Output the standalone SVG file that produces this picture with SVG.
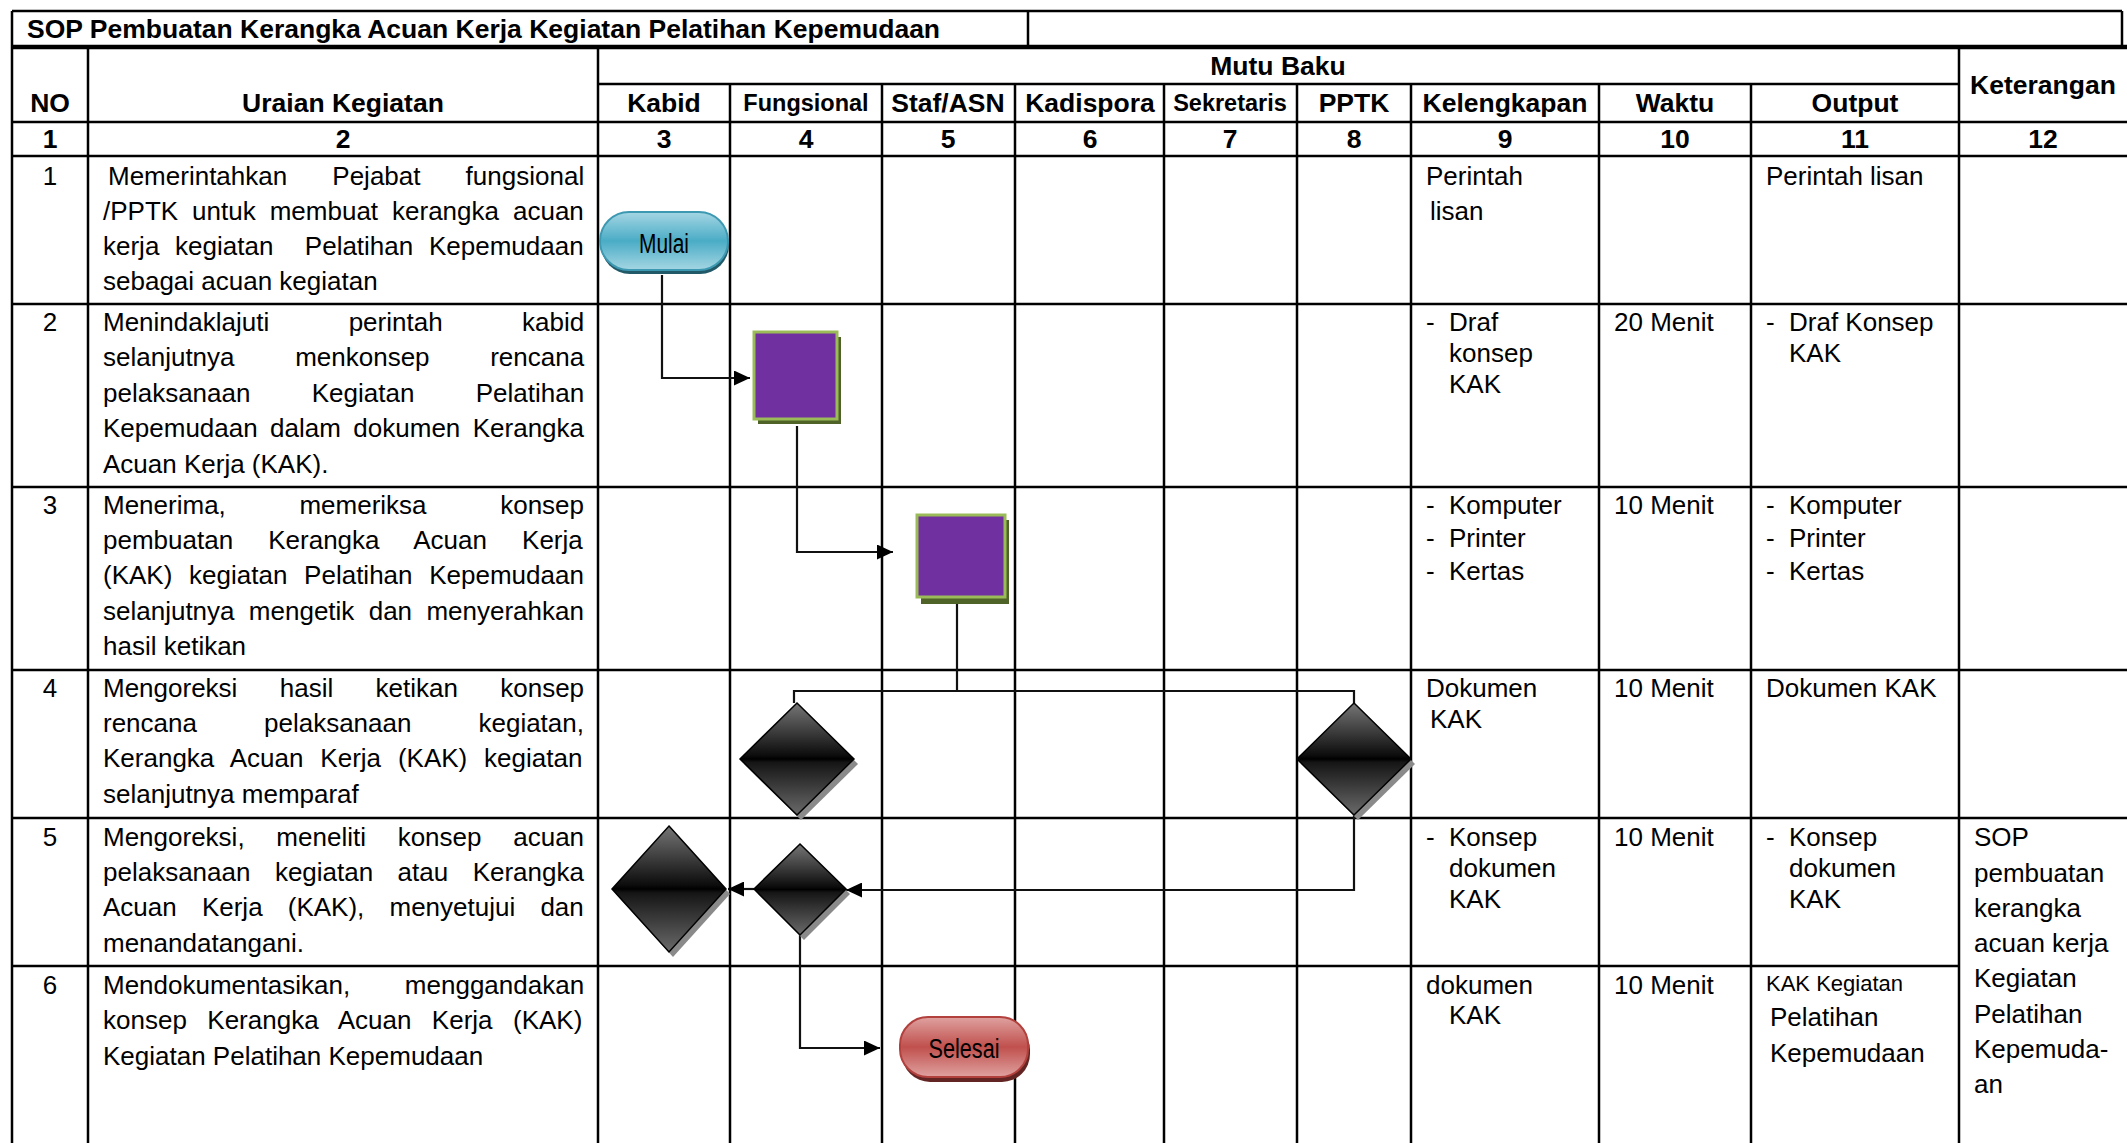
<svg xmlns="http://www.w3.org/2000/svg" width="2127" height="1143" viewBox="0 0 2127 1143">
  <style>
    text { font-family: "Liberation Sans", Arial, sans-serif; fill: #000; }
    .t { font-size: 26px; }
    .h { font-size: 26.5px; font-weight: bold; }
    .hs { font-size: 23.5px; font-weight: bold; }
    .c { text-anchor: middle; }
    .sm { font-size: 22px; }
    .grid line { stroke: #000; stroke-width: 2.5; }
    .conn { fill: none; stroke: #111; stroke-width: 2.2; }
    .dia { fill: url(#gDia); stroke: #000; stroke-width: 1.5; }
    .diaS { fill: #8a8a8a; }
    .proc { fill: #7030A0; stroke: #9BBB59; stroke-width: 3; }
    .procS { fill: #4F6228; }
  </style>
  <defs>
    <linearGradient id="gDia" x1="0" y1="0" x2="0" y2="1">
      <stop offset="0" stop-color="#767676"/>
      <stop offset="0.47" stop-color="#0c0c0c"/>
      <stop offset="0.5" stop-color="#000"/>
      <stop offset="0.53" stop-color="#151515"/>
      <stop offset="1" stop-color="#6a6a6a"/>
    </linearGradient>
    <linearGradient id="gStart" x1="0" y1="0" x2="0" y2="1">
      <stop offset="0" stop-color="#a5d6e3"/>
      <stop offset="0.5" stop-color="#4aacc6"/>
      <stop offset="1" stop-color="#a5d6e3"/>
    </linearGradient>
    <linearGradient id="gEnd" x1="0" y1="0" x2="0" y2="1">
      <stop offset="0" stop-color="#dfa2a0"/>
      <stop offset="0.5" stop-color="#c0504d"/>
      <stop offset="1" stop-color="#dfa2a0"/>
    </linearGradient>
    <marker id="arrow" markerUnits="userSpaceOnUse" markerWidth="17" markerHeight="15" refX="16" refY="7.5" orient="auto">
      <path d="M0,0 L16,7.5 L0,15 Z" fill="#000"/>
    </marker>
  </defs>

  <rect x="0" y="0" width="2127" height="1143" fill="#fff"/>

  <!-- table grid -->
  <g class="grid">
    <line x1="12" y1="11" x2="2122" y2="11"/>
    <line x1="2122" y1="11" x2="2122" y2="47"/>
    <line x1="1028" y1="11" x2="1028" y2="47"/>
    <line x1="12" y1="47" x2="2127" y2="47" style="stroke-width:4.5"/>
    <line x1="598" y1="84" x2="1959" y2="84"/>
    <line x1="12" y1="122" x2="2127" y2="122"/>
    <line x1="12" y1="156" x2="2127" y2="156"/>
    <line x1="12" y1="304" x2="2127" y2="304"/>
    <line x1="12" y1="487" x2="2127" y2="487"/>
    <line x1="12" y1="670" x2="2127" y2="670"/>
    <line x1="12" y1="818" x2="2127" y2="818"/>
    <line x1="12" y1="966" x2="1959" y2="966"/>
    <line x1="12" y1="11" x2="12" y2="1143"/>
    <line x1="88" y1="47" x2="88" y2="1143"/>
    <line x1="598" y1="47" x2="598" y2="1143"/>
    <line x1="730" y1="84" x2="730" y2="1143"/>
    <line x1="882" y1="84" x2="882" y2="1143"/>
    <line x1="1015" y1="84" x2="1015" y2="1143"/>
    <line x1="1164" y1="84" x2="1164" y2="1143"/>
    <line x1="1297" y1="84" x2="1297" y2="1143"/>
    <line x1="1411" y1="84" x2="1411" y2="1143"/>
    <line x1="1599" y1="84" x2="1599" y2="1143"/>
    <line x1="1751" y1="84" x2="1751" y2="1143"/>
    <line x1="1959" y1="47" x2="1959" y2="1143"/>
  </g>

  <!-- header -->
  <g id="header">
    <text class="h" x="27" y="38">SOP Pembuatan Kerangka Acuan Kerja Kegiatan Pelatihan Kepemudaan</text>
    <text class="h c" x="1278" y="75">Mutu Baku</text>
    <text class="h c" x="50" y="112">NO</text>
    <text class="h c" x="343" y="112">Uraian Kegiatan</text>
    <text class="h c" x="664" y="112">Kabid</text>
    <text class="hs c" x="806" y="111">Fungsional</text>
    <text class="h c" x="948" y="112">Staf/ASN</text>
    <text class="h c" x="1090" y="112">Kadispora</text>
    <text class="hs c" x="1230" y="111">Sekretaris</text>
    <text class="h c" x="1354" y="112">PPTK</text>
    <text class="h c" x="1505" y="112">Kelengkapan</text>
    <text class="h c" x="1675" y="112">Waktu</text>
    <text class="h c" x="1855" y="112">Output</text>
    <text class="h c" x="2043" y="94">Keterangan</text>
    <text class="h c" x="50" y="148">1</text>
    <text class="h c" x="343" y="148">2</text>
    <text class="h c" x="664" y="148">3</text>
    <text class="h c" x="806" y="148">4</text>
    <text class="h c" x="948" y="148">5</text>
    <text class="h c" x="1090" y="148">6</text>
    <text class="h c" x="1230" y="148">7</text>
    <text class="h c" x="1354" y="148">8</text>
    <text class="h c" x="1505" y="148">9</text>
    <text class="h c" x="1675" y="148">10</text>
    <text class="h c" x="1855" y="148">11</text>
    <text class="h c" x="2043" y="148">12</text>
  </g>

  <!-- row 1 -->
  <g id="row1" class="t">
    <text class="c" x="50" y="185">1</text>
    <text x="108" y="185" style="word-spacing:37.9px">Memerintahkan Pejabat fungsional</text>
    <text x="103" y="220" style="word-spacing:6.75px">/PPTK untuk membuat kerangka acuan</text>
    <text x="103" y="255" xml:space="preserve" style="word-spacing:8.5px">kerja kegiatan  Pelatihan Kepemudaan</text>
    <text x="103" y="290">sebagai acuan kegiatan</text>
    <text x="1426" y="185">Perintah</text>
    <text x="1430" y="220">lisan</text>
    <text x="1766" y="185">Perintah lisan</text>
  </g>

  <!-- row 2 -->
  <g id="row2" class="t">
    <text class="c" x="50" y="331">2</text>
    <text x="103" y="331" style="word-spacing:72.2px">Menindaklajuti perintah kabid</text>
    <text x="103" y="366" style="word-spacing:53.4px">selanjutnya menkonsep rencana</text>
    <text x="103" y="402" style="word-spacing:54.1px">pelaksanaan Kegiatan Pelatihan</text>
    <text x="103" y="437" style="word-spacing:5.2px">Kepemudaan dalam dokumen Kerangka</text>
    <text x="103" y="473">Acuan Kerja (KAK).</text>
    <text x="1426" y="331">-</text>
    <text x="1449" y="331">Draf</text>
    <text x="1449" y="362">konsep</text>
    <text x="1449" y="393">KAK</text>
    <text x="1614" y="331">20 Menit</text>
    <text x="1766" y="331">-</text>
    <text x="1789" y="331">Draf Konsep</text>
    <text x="1789" y="362">KAK</text>
  </g>

  <!-- row 3 -->
  <g id="row3" class="t">
    <text class="c" x="50" y="514">3</text>
    <text x="103" y="514" style="word-spacing:66.4px">Menerima, memeriksa konsep</text>
    <text x="103" y="549" style="word-spacing:27.9px">pembuatan Kerangka Acuan Kerja</text>
    <text x="103" y="584" style="word-spacing:9.5px">(KAK) kegiatan Pelatihan Kepemudaan</text>
    <text x="103" y="620" style="word-spacing:7.1px">selanjutnya mengetik dan menyerahkan</text>
    <text x="103" y="655">hasil ketikan</text>
    <text x="1426" y="514">-</text>
    <text x="1449" y="514">Komputer</text>
    <text x="1426" y="547">-</text>
    <text x="1449" y="547">Printer</text>
    <text x="1426" y="580">-</text>
    <text x="1449" y="580">Kertas</text>
    <text x="1614" y="514">10 Menit</text>
    <text x="1766" y="514">-</text>
    <text x="1789" y="514">Komputer</text>
    <text x="1766" y="547">-</text>
    <text x="1789" y="547">Printer</text>
    <text x="1766" y="580">-</text>
    <text x="1789" y="580">Kertas</text>
  </g>

  <!-- row 4 -->
  <g id="row4" class="t">
    <text class="c" x="50" y="697">4</text>
    <text x="103" y="697" style="word-spacing:35.1px">Mengoreksi hasil ketikan konsep</text>
    <text x="103" y="732" style="word-spacing:59.8px">rencana pelaksanaan kegiatan,</text>
    <text x="103" y="767" style="word-spacing:9.65px">Kerangka Acuan Kerja (KAK) kegiatan</text>
    <text x="103" y="803">selanjutnya memparaf</text>
    <text x="1426" y="697">Dokumen</text>
    <text x="1430" y="728">KAK</text>
    <text x="1614" y="697">10 Menit</text>
    <text x="1766" y="697">Dokumen KAK</text>
  </g>

  <!-- row 5 -->
  <g id="row5" class="t">
    <text class="c" x="50" y="846">5</text>
    <text x="103" y="846" style="word-spacing:24.5px">Mengoreksi, meneliti konsep acuan</text>
    <text x="103" y="881" style="word-spacing:17.2px">pelaksanaan kegiatan atau Kerangka</text>
    <text x="103" y="916" style="word-spacing:17.95px">Acuan Kerja (KAK), menyetujui dan</text>
    <text x="103" y="952">menandatangani.</text>
    <text x="1426" y="846">-</text>
    <text x="1449" y="846">Konsep</text>
    <text x="1449" y="877">dokumen</text>
    <text x="1449" y="908">KAK</text>
    <text x="1614" y="846">10 Menit</text>
    <text x="1766" y="846">-</text>
    <text x="1789" y="846">Konsep</text>
    <text x="1789" y="877">dokumen</text>
    <text x="1789" y="908">KAK</text>
    <text x="1974" y="846">SOP</text>
    <text x="1974" y="882">pembuatan</text>
    <text x="1974" y="917">kerangka</text>
    <text x="1974" y="952">acuan kerja</text>
    <text x="1974" y="987">Kegiatan</text>
    <text x="1974" y="1023">Pelatihan</text>
    <text x="1974" y="1058">Kepemuda-</text>
    <text x="1974" y="1093">an</text>
  </g>

  <!-- row 6 -->
  <g id="row6" class="t">
    <text class="c" x="50" y="994">6</text>
    <text x="103" y="994" style="word-spacing:47.5px">Mendokumentasikan, menggandakan</text>
    <text x="103" y="1029" style="word-spacing:13.25px">konsep Kerangka Acuan Kerja (KAK)</text>
    <text x="103" y="1065">Kegiatan Pelatihan Kepemudaan</text>
    <text x="1426" y="994">dokumen</text>
    <text x="1449" y="1024">KAK</text>
    <text x="1614" y="994">10 Menit</text>
    <text class="sm" x="1766" y="991">KAK Kegiatan</text>
    <text x="1770" y="1026">Pelatihan</text>
    <text x="1770" y="1062">Kepemudaan</text>
  </g>

  <!-- connectors -->
  <g id="connectors">
    <path class="conn" d="M662,275 V378 H750" marker-end="url(#arrow)"/>
    <path class="conn" d="M797,426 V552 H893" marker-end="url(#arrow)"/>
    <path class="conn" d="M957,604 V691"/>
    <path class="conn" d="M794,703 V691 H1354 V703"/>
    <path class="conn" d="M1354,815 V890 H846" marker-end="url(#arrow)"/>
    <path class="conn" d="M754,889 H728" marker-end="url(#arrow)"/>
    <path class="conn" d="M800,935 V1048 H880" marker-end="url(#arrow)"/>
  </g>

  <!-- flow nodes -->
  <g id="start">
    <rect x="601" y="216" width="128" height="58" rx="29" fill="#215968"/>
    <rect x="600" y="212" width="128" height="58" rx="29" fill="url(#gStart)" stroke="#3d99b2" stroke-width="2"/>
    <text x="664" y="253" class="c" style="font-size:27px" textLength="50" lengthAdjust="spacingAndGlyphs">Mulai</text>
  </g>
  <g id="draft-kak">
    <rect class="procS" x="758" y="337" width="83" height="87"/>
    <rect class="proc" x="754" y="332" width="83" height="87"/>
  </g>
  <g id="typing-kak">
    <rect class="procS" x="921" y="520" width="88" height="84"/>
    <rect class="proc" x="917" y="515" width="88" height="82"/>
  </g>
  <g id="check-fungsional">
    <polygon class="diaS" points="801,708 858,764 801,820 744,764"/>
    <polygon class="dia" points="797,703 854,759 797,815 740,759"/>
  </g>
  <g id="check-pptk">
    <polygon class="diaS" points="1358,708 1415,764 1358,820 1301,764"/>
    <polygon class="dia" points="1354,703 1411,759 1354,815 1297,759"/>
  </g>
  <g id="review-fungsional">
    <polygon class="diaS" points="804,849 850,894 804,940 758,894"/>
    <polygon class="dia" points="800,844 846,889 800,935 754,889"/>
  </g>
  <g id="approve-kabid">
    <polygon class="diaS" points="673,831 730,894 673,957 616,894"/>
    <polygon class="dia" points="669,826 726,889 669,952 612,889"/>
  </g>
  <g id="end">
    <rect x="902" y="1022" width="128" height="60" rx="28" fill="#632523"/>
    <rect x="900" y="1017" width="128" height="60" rx="28" fill="url(#gEnd)" stroke="#b2413e" stroke-width="2"/>
    <text x="964" y="1058" class="c" style="font-size:27px" textLength="71" lengthAdjust="spacingAndGlyphs">Selesai</text>
  </g>
</svg>
